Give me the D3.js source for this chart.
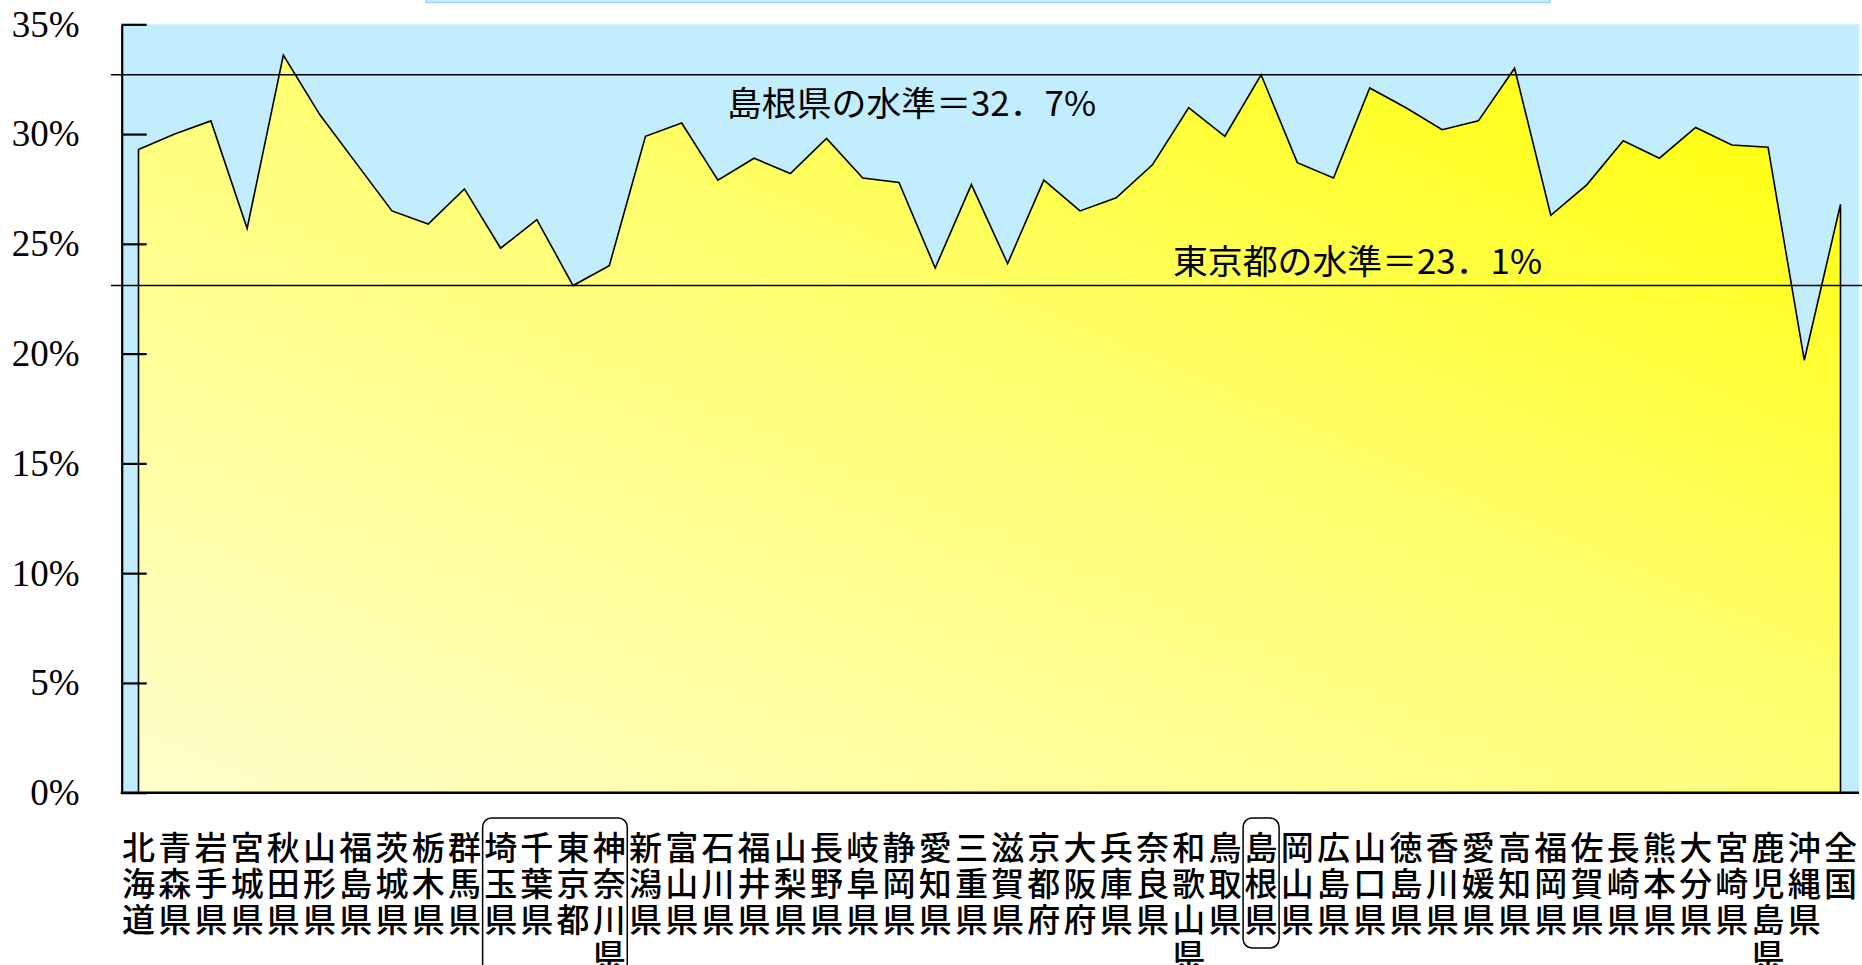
<!DOCTYPE html>
<html>
<head>
<meta charset="utf-8">
<script src="https://cdn.jsdelivr.net/npm/d3@7"></script>
<style>
  html, body { margin: 0; padding: 0; background: #fff; }
  svg { display: block; }
</style>
</head>
<body>
<svg class="chart"></svg>
<script>
// prefectures in order, 全国 last
const prefs = [
  '北海道', '青森県', '岩手県', '宮城県', '秋田県', '山形県', '福島県', '茨城県',
  '栃木県', '群馬県', '埼玉県', '千葉県', '東京都', '神奈川県', '新潟県', '富山県',
  '石川県', '福井県', '山梨県', '長野県', '岐阜県', '静岡県', '愛知県', '三重県',
  '滋賀県', '京都府', '大阪府', '兵庫県', '奈良県', '和歌山県', '鳥取県', '島根県',
  '岡山県', '広島県', '山口県', '徳島県', '香川県', '愛媛県', '高知県', '福岡県',
  '佐賀県', '長崎県', '熊本県', '大分県', '宮崎県', '鹿児島県', '沖縄県', '全国'
];
// percent
const rates = [
  29.3, 30.0, 30.6, 25.7, 33.6, 30.9, 28.7, 26.5,
  25.9, 27.5, 24.8, 26.1, 23.1, 24.0, 29.9, 30.5,
  27.9, 28.9, 28.2, 29.8, 28.0, 27.8, 23.9, 27.7,
  24.1, 27.9, 26.5, 27.1, 28.6, 31.2, 29.9, 32.7,
  28.7, 28.0, 32.1, 31.2, 30.2, 30.6, 33.0, 26.3,
  27.7, 29.7, 28.9, 30.3, 29.5, 29.4, 19.7, 26.8
];
const yTicks = [0, 5, 10, 15, 20, 25, 30, 35];
const refNames = ['島根県の水準＝32．7%', '東京都の水準＝23．1%'];
const refValues = [32.7, 23.1];
const boxedGroups = [['埼玉県', '神奈川県'], ['島根県', '島根県']];

const [width, height] = [1862, 965];
const axisX = 121.7;
const svg = d3.select('.chart').attr('width', width).attr('height', height);

const x = d3.scalePoint().domain(prefs).range([138.5, 1840.5]);
const y = d3.scaleLinear().domain([0, 35]).range([792.7, 24.3]);
const data = prefs.map((name, i) => ({ name, v: rates[i] }));

// title box cut off at the top edge
svg.append('rect')
  .attr('x', 426).attr('y', -12).attr('width', 1124).attr('height', 14.5)
  .attr('fill', '#c8ecfd').attr('stroke', '#9dd2f6').attr('stroke-width', 1.5);

// plot background
svg.append('rect')
  .attr('x', axisX).attr('y', y(35))
  .attr('width', 1859 - axisX).attr('height', y(0) - y(35))
  .attr('fill', '#c1edfd');

const defs = svg.append('defs');
const grad = defs.append('linearGradient')
  .attr('id', 'fillGrad')
  .attr('x1', 0).attr('y1', 1).attr('x2', 1).attr('y2', 0);
grad.append('stop').attr('offset', '0%').attr('stop-color', '#ffffcc');
grad.append('stop').attr('offset', '55%').attr('stop-color', '#ffff70');
grad.append('stop').attr('offset', '100%').attr('stop-color', '#ffff00');

const area = d3.area()
  .x((d) => x(d.name))
  .y0(y(0))
  .y1((d) => y(d.v));

svg.append('path')
  .datum(data)
  .attr('d', (d) => area(d) + 'Z')
  .attr('fill', 'url(#fillGrad)')
  .attr('stroke', '#000')
  .attr('stroke-width', 1.6)
  .attr('stroke-linejoin', 'miter');

// reference lines + labels
const refs = refNames.map((label, i) => ({ label, v: refValues[i] }));
const refLabelX = [727, 1173];
const refLabelDy = [41, -12];
svg.append('g').selectAll('line')
  .data(refs)
  .enter()
  .append('line')
  .attr('x1', 111).attr('x2', width)
  .attr('y1', (d) => y(d.v)).attr('y2', (d) => y(d.v))
  .attr('stroke', '#000').attr('stroke-width', 1.6);
svg.append('g').selectAll('text')
  .data(refs)
  .enter()
  .append('text')
  .attr('x', (d, i) => refLabelX[i])
  .attr('y', (d, i) => y(d.v) + refLabelDy[i])
  .attr('textLength', 369)
  .attr('lengthAdjust', 'spacingAndGlyphs')
  .style('font-family', '"Noto Sans CJK JP", sans-serif')
  .style('font-size', '34px')
  .attr('fill', '#000')
  .text((d) => d.label);

// y axis
const yAxis = svg.append('g')
  .attr('transform', `translate(${axisX},0)`)
  .call(d3.axisLeft(y)
    .tickValues(yTicks)
    .tickSize(-25)
    .tickSizeOuter(0)
    .tickPadding(42)
    .tickFormat((d) => `${d}%`));
yAxis.select('.domain').attr('stroke', '#000').attr('stroke-width', 2.2);
yAxis.selectAll('.tick line').attr('stroke', '#000').attr('stroke-width', 2.2);
yAxis.selectAll('.tick text')
  .attr('fill', '#000')
  .style('font-family', '"Liberation Serif", "Times New Roman", serif')
  .style('font-size', '37px');

// x axis baseline
svg.append('line')
  .attr('x1', axisX - 1).attr('x2', 1859)
  .attr('y1', y(0)).attr('y2', y(0))
  .attr('stroke', '#000').attr('stroke-width', 2.4);

// vertical category labels, one character per row
const rowStep = 36;
const firstBase = 860;
svg.append('g').selectAll('text')
  .data(prefs)
  .enter()
  .append('text')
  .attr('text-anchor', 'middle')
  .style('font-family', '"Noto Sans CJK JP", sans-serif')
  .style('font-size', '33px')
  .style('font-weight', 500)
  .attr('fill', '#000')
  .each(function (name) {
    const t = d3.select(this);
    Array.from(name).forEach((ch, i) => {
      t.append('tspan')
        .attr('x', x(name))
        .attr('y', firstBase + i * rowStep)
        .text(ch);
    });
  });

// rounded boxes round highlighted labels
svg.append('g').selectAll('rect')
  .data(boxedGroups)
  .enter()
  .append('rect')
  .attr('x', ([a]) => x(a) - 18)
  .attr('y', 818)
  .attr('width', ([a, b]) => x(b) - x(a) + 36)
  .attr('height', ([, b]) => Array.from(b).length * rowStep + 22)
  .attr('rx', 9)
  .attr('fill', 'none')
  .attr('stroke', '#000')
  .attr('stroke-width', 1.5);
</script>
</body>
</html>
